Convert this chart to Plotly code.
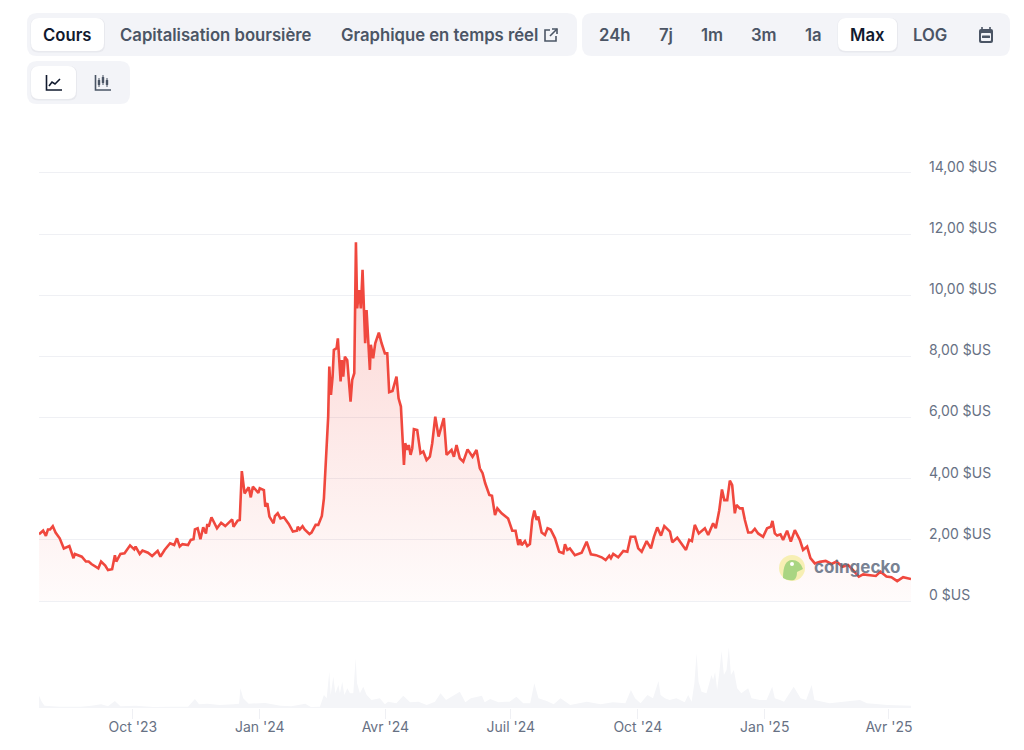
import pandas as pd
import plotly.graph_objects as go

# values, days counted from the first point of the chart
start_date = "2023-07-25"
price_days = [0, 3, 5, 6.5, 8, 10, 12, 15, 18, 22, 25, 26, 31, 34, 36, 38, 43, 45, 48, 50, 53, 55, 56, 59, 62, 66, 69, 70, 73, 75,
              79, 82, 86, 88, 91, 95, 98, 100, 102, 104, 108, 110, 112, 113, 115, 117, 119, 121, 122, 123, 125, 129, 132, 135, 140, 141, 144, 145.5, 147, 149,
              152, 153.5, 155, 159, 160, 163, 164, 165.5, 167, 170, 171, 173, 175, 177.5, 181, 184, 187, 187.5, 189, 191, 192.5, 196, 197.5, 200.5, 202.4, 205, 206.5, 208, 209.6, 210.4,
              211.6, 212.8, 213.7, 215.7, 216.6, 218.6, 219.5, 220.5, 221.7, 223.4, 225.8, 227, 228.5, 229.7, 230.6, 232, 233.3, 234.5, 236.4, 237.4, 238.6, 239.8, 240.5, 242.2, 243.7, 246.3, 248.3, 250.7, 252.4, 253.8,
              256.2, 259.1, 260.6, 262.3, 264.5, 265.4, 266.9, 268, 269.3, 270.5, 271.7, 274.1, 276.5, 278.5, 280.9, 283.3, 285, 287.2, 289.6, 291.5, 293.4, 295.4, 299, 300.7, 302.6, 305, 307.5, 310.6, 314.2, 317.1,
              319.5, 321.5, 323.4, 326.4, 328.3, 330.5, 332.2, 335.3, 340, 343, 345.4, 347.4, 348.6, 349.8, 352.2, 353.9, 355.8, 357.5, 359, 360.7, 361.9, 364.3, 366.7, 368.6, 370.8, 374, 377, 380, 381.2, 382.9,
              384.8, 388.4, 393.3, 396.9, 400, 403.7, 407.8, 410.7, 413.3, 414.5, 416.2, 419.8, 423.5, 426.4, 428.8, 432, 434.3, 436.8, 440.4, 443.5, 445.7, 448.1, 450.8, 453.2, 457.3, 459, 462.6, 468.9, 471.3, 473.2,
              475.3, 478.2, 482.6, 485, 488.6, 490.5, 493, 495, 496.7, 498.8, 500.7, 502.4, 504.3, 505.5, 508, 509.9, 511.6, 514, 516.4, 518.8, 521.2, 524.8, 527.7, 530.4, 531.6, 533.3, 535, 537.4, 539.3, 542.2,
              544.9, 547.8, 551.4, 553.8, 556.7, 559.1, 562.3, 565.9, 570.2, 574.4, 578, 582.3, 586.4, 590, 594.2, 597.3, 603.3, 606.5, 609.9, 614.2, 617.8, 622, 626.3, 632]
price_usd = [2.18, 2.30, 2.13, 2.34, 2.34, 2.45, 2.24, 2.05, 1.72, 1.80, 1.40, 1.54, 1.45, 1.29, 1.29, 1.21, 1.07, 1.29, 1.16, 1.01, 1.04, 1.50, 1.29, 1.54, 1.56, 1.82, 1.69, 1.78, 1.54, 1.65,
             1.58, 1.47, 1.64, 1.45, 1.67, 1.89, 1.83, 2.05, 1.78, 1.86, 1.83, 2.00, 2.02, 2.34, 2.38, 2.02, 2.41, 2.21, 2.52, 2.43, 2.74, 2.38, 2.56, 2.45, 2.67, 2.43, 2.63, 2.65, 4.25, 3.52,
             3.72, 3.39, 3.74, 3.54, 3.69, 3.63, 3.09, 3.20, 2.76, 2.54, 2.78, 2.87, 2.70, 2.74, 2.52, 2.27, 2.30, 2.43, 2.34, 2.45, 2.34, 2.19, 2.24, 2.49, 2.49, 2.78, 3.36, 4.61, 6.03, 7.67,
             6.74, 7.34, 8.21, 8.27, 8.59, 7.18, 7.88, 7.34, 7.99, 7.88, 6.52, 7.23, 7.45, 11.73, 9.57, 10.17, 9.57, 10.83, 8.43, 9.52, 8.43, 7.56, 8.38, 7.94, 8.43, 8.78, 8.43, 8.10, 8.10, 6.83,
             6.87, 7.34, 6.63, 6.36, 4.45, 5.16, 4.94, 5.10, 4.78, 4.99, 5.62, 5.59, 4.83, 4.89, 4.61, 4.72, 5.16, 6.03, 5.38, 5.70, 5.98, 4.78, 4.94, 4.72, 5.10, 4.67, 4.56, 4.96, 4.72, 4.94,
             4.34, 4.18, 3.85, 3.47, 3.44, 2.81, 3.03, 2.87, 2.70, 2.30, 2.30, 1.83, 2.02, 1.83, 1.96, 1.80, 1.86, 2.65, 2.96, 2.65, 2.76, 2.24, 2.16, 2.38, 2.34, 2.05, 1.61, 1.56, 1.86, 1.67,
             1.72, 1.50, 1.58, 1.94, 1.53, 1.50, 1.43, 1.34, 1.48, 1.40, 1.54, 1.43, 1.64, 1.61, 2.10, 2.10, 1.72, 1.61, 1.96, 1.72, 2.10, 2.41, 2.14, 2.45, 2.27, 1.92, 2.07, 1.67, 2.00, 1.96,
             2.49, 2.21, 2.38, 2.16, 2.54, 2.38, 2.96, 3.65, 3.30, 3.30, 3.94, 3.79, 2.87, 3.14, 3.03, 3.03, 2.65, 2.24, 2.24, 2.36, 2.21, 2.10, 2.38, 2.43, 2.62, 2.21, 2.14, 2.18, 2.00, 2.30,
             1.94, 2.32, 2.00, 1.67, 1.78, 1.40, 1.23, 1.28, 1.31, 1.21, 1.29, 1.12, 1.18, 1.01, 0.80, 0.87, 0.85, 0.82, 0.96, 0.80, 0.78, 0.65, 0.78, 0.72]

volume_days = [0, 2, 4, 15, 30, 38, 45, 50, 55, 59, 70, 83, 95, 108, 113, 116, 122, 131, 141, 145, 146, 148, 152, 164, 175, 183, 193, 197, 203.6, 206.5, 208.5, 210.4, 211.4, 213.3, 214.8, 217, 218.1, 219.8, 221.3, 223.5, 225.4, 227.8, 229.5, 230.5, 232.6, 235, 237.5, 241, 247, 250.7, 253, 259, 264, 269, 275, 281,
               287, 291, 295, 305, 309, 313, 321, 323, 327, 333, 338, 341, 346, 351, 356, 359, 362, 368, 373, 378, 385, 397, 407, 416, 425, 429, 432, 436, 441, 445, 449, 450.5, 453.6, 457, 462, 468, 470.5, 473, 475, 476.6, 478, 480.2, 483.8, 487.4, 488.6,
               490, 491.5, 493, 494.7, 496.4, 498.3, 500, 501.5, 503.6, 506, 509, 514, 516.4, 522.5, 527.3, 531.4, 533.3, 537, 540, 547, 552, 556, 560, 562, 573, 588, 595, 600, 615, 632]
volume_usd = [38, 20, 8, 5, 5, 8, 12, 6, 22, 6, 8, 4, 5, 5, 28, 12, 14, 10, 12, 14, 60, 30, 14, 16, 8, 6, 14, 4, 5, 40, 30, 110, 40, 95, 45, 70, 45, 80, 40, 60, 45, 45, 150, 75, 45, 65, 40, 25, 30, 12, 20, 15, 38, 18, 20, 10,
              20, 45, 25, 50, 18, 30, 38, 18, 28, 18, 20, 20, 35, 15, 15, 75, 30, 22, 12, 30, 10, 20, 12, 18, 15, 55, 30, 15, 40, 30, 82, 40, 30, 25, 30, 18, 40, 20, 75, 165, 80, 50, 45, 100, 85,
              110, 55, 105, 172, 100, 115, 183, 100, 115, 60, 45, 60, 30, 25, 25, 65, 30, 25, 20, 65, 30, 25, 70, 25, 15, 22, 25, 15, 10, 8]

y_ticks = [0, 2, 4, 6, 8, 10, 12, 14]
y_labels = ["0 $US", "2,00 $US", "4,00 $US", "6,00 $US", "8,00 $US", "10,00 $US", "12,00 $US", "14,00 $US"]
x_ticks = ["2023-10-01", "2024-01-01", "2024-04-01", "2024-07-01", "2024-10-01", "2025-01-01", "2025-04-01"]
x_labels = ["Oct '23", "Jan '24", "Avr '24", "Juil '24", "Oct '24", "Jan '25", "Avr '25"]

W, H = 1008, 734
DARK = "#111a2e"
GREY = "#4b5565"
PANEL = "#f3f4f8"


# the page has an 8px body margin, so positions below are page pixels
def px(x):
    return (x - 8) / W


def py(y):
    return 1 - (y - 8) / H


def rounded(x0, y0, x1, y1, r):
    return (f"M{px(x0 + r)},{py(y0)} L{px(x1 - r)},{py(y0)} Q{px(x1)},{py(y0)} {px(x1)},{py(y0 + r)} "
            f"L{px(x1)},{py(y1 - r)} Q{px(x1)},{py(y1)} {px(x1 - r)},{py(y1)} "
            f"L{px(x0 + r)},{py(y1)} Q{px(x0)},{py(y1)} {px(x0)},{py(y1 - r)} "
            f"L{px(x0)},{py(y0 + r)} Q{px(x0)},{py(y0)} {px(x0 + r)},{py(y0)} Z")


def box(x0, y0, x1, y1, r, color):
    return dict(type="path", xref="paper", yref="paper", path=rounded(x0, y0, x1, y1, r),
                fillcolor=color, line_width=0, layer="above")


def stroke(points, color, width=1.6):
    path = "M" + " L".join(f"{px(a)},{py(b)}" for a, b in points)
    return dict(type="path", xref="paper", yref="paper", path=path,
                line=dict(color=color, width=width), layer="above")


def label(text, x, y, color=GREY, weight=600, size=16.7):
    return dict(text=text, x=px(x), y=py(y), xref="paper", yref="paper", showarrow=False,
                xanchor="center", yanchor="middle", font=dict(family="Inter", size=size, color=color, weight=weight))


dates = pd.Timestamp(start_date) + pd.to_timedelta(price_days, unit="D")
vol_dates = pd.Timestamp(start_date) + pd.to_timedelta(volume_days, unit="D")

fig = go.Figure()
fig.add_trace(go.Scatter(x=vol_dates, y=volume_usd, yaxis="y2", mode="none", fill="tozeroy",
                         fillcolor="#f4f5f8", hoverinfo="skip"))
fig.add_trace(go.Scatter(x=dates, y=price_usd, mode="lines", line=dict(color="#f0483e", width=2.6),
                         fill="tozeroy",
                         fillgradient=dict(type="vertical", colorscale=[[0, "rgba(240,72,62,0.02)"], [1, "rgba(240,72,62,0.24)"]])))

shapes = [
    box(27, 13, 577, 56, 10, PANEL),
    box(582, 13, 1010, 56, 10, PANEL),
    box(27, 61, 130, 104, 10, PANEL),
]
for x0, y0, x1, y1 in [(31, 18, 104, 51), (838, 18, 897, 51), (31, 66, 76, 99)]:
    shapes.append(box(x0 - 0.5, y0, x1 + 1, y1 + 1.5, 8, "#e8e9ee"))
    shapes.append(box(x0, y0, x1, y1, 8, "#ffffff"))

# external link icon
shapes.append(stroke([(550, 30), (545, 30), (545, 41), (556, 41), (556, 36)], GREY))
shapes.append(stroke([(550, 36), (557, 29)], GREY))
shapes.append(stroke([(552, 29), (557, 29), (557, 34)], GREY))
# calendar icon
shapes.append(box(979, 29, 993, 43, 2, GREY))
shapes.append(box(981, 33, 991, 41, 1, PANEL))
shapes.append(box(982, 35.5, 990, 38, 0.5, GREY))
shapes.append(stroke([(982, 27), (982, 30)], GREY))
shapes.append(stroke([(990, 27), (990, 30)], GREY))
# line chart icon
shapes.append(stroke([(46.5, 75), (46.5, 90), (62, 90)], DARK))
shapes.append(stroke([(49, 86), (52, 82), (55, 84), (60, 79)], DARK))
# candle icon
shapes.append(stroke([(95.5, 75), (95.5, 90), (111, 90)], GREY))
for cx, top, bottom in [(99, 78, 87), (103, 75, 85), (107, 78, 87)]:
    shapes.append(stroke([(cx, top), (cx, bottom)], GREY, 1))
    shapes.append(box(cx - 1.2, top + 2, cx + 1.2, bottom - 2, 0.5, GREY))

# watermark logo
shapes.append(dict(type="circle", xref="paper", yref="paper", x0=px(779), x1=px(805), y0=py(581), y1=py(555),
                   fillcolor="#f7efb4", line_width=0, layer="above"))
shapes.append(dict(type="path", xref="paper", yref="paper", fillcolor="#a9d582", line_width=0, layer="above",
                   path=f"M{px(783)},{py(578)} Q{px(783)},{py(560)} {px(792)},{py(560)} Q{px(800)},{py(560)} {px(803)},{py(569)} "
                        f"L{px(797)},{py(572)} Q{px(797)},{py(578)} {px(794)},{py(580)} Q{px(788)},{py(581)} {px(783)},{py(578)} Z"))
shapes.append(dict(type="circle", xref="paper", yref="paper", x0=px(790), x1=px(794), y0=py(566), y1=py(562),
                   fillcolor="#ffffff", line_width=0, layer="above"))

annotations = [
    label("Cours", 67, 34.5, DARK),
    label("Capitalisation boursière", 216, 34.5),
    label("Graphique en temps réel", 439, 34.5),
    label("24h", 614, 34.5),
    label("7j", 666, 34.5),
    label("1m", 712, 34.5),
    label("3m", 764, 34.5),
    label("1a", 813, 34.5),
    label("Max", 867, 34.5, DARK),
    label("LOG", 930, 34.5),
    label("coingecko", 857, 567, "rgba(96,107,128,0.85)", 700, 17),
]

fig.update_layout(
    width=W, height=H, margin=dict(l=0, r=0, t=0, b=0), showlegend=False,
    paper_bgcolor="#ffffff", plot_bgcolor="#ffffff",
    font=dict(family="Inter", size=14, color="#677184"),
    shapes=shapes, annotations=annotations,
    xaxis=dict(domain=[px(39), px(911)], anchor="y2", type="date", automargin=False,
               range=[pd.Timestamp(start_date), pd.Timestamp(start_date) + pd.Timedelta(days=632)],
               tickvals=x_ticks, ticktext=x_labels, showgrid=False, zeroline=False, showline=False,
               ticks="outside", ticklen=10, tickcolor="#eff0f4", tickwidth=1, ticklabelstandoff=-4),
    # half a unit either side so the 0 and 14 gridlines are kept
    yaxis=dict(domain=[py(616.3), py(157.7)], range=[-0.5, 14.5], side="right", anchor="x", automargin=False,
               tickvals=y_ticks, ticktext=y_labels, gridcolor="#eff0f4", gridwidth=1, zeroline=False,
               ticklabelstandoff=17, ticklabelshift=-6),
    yaxis2=dict(domain=[py(708.3), py(640)], range=[0, 205], visible=False),
)

fig.write_html("out.html")
